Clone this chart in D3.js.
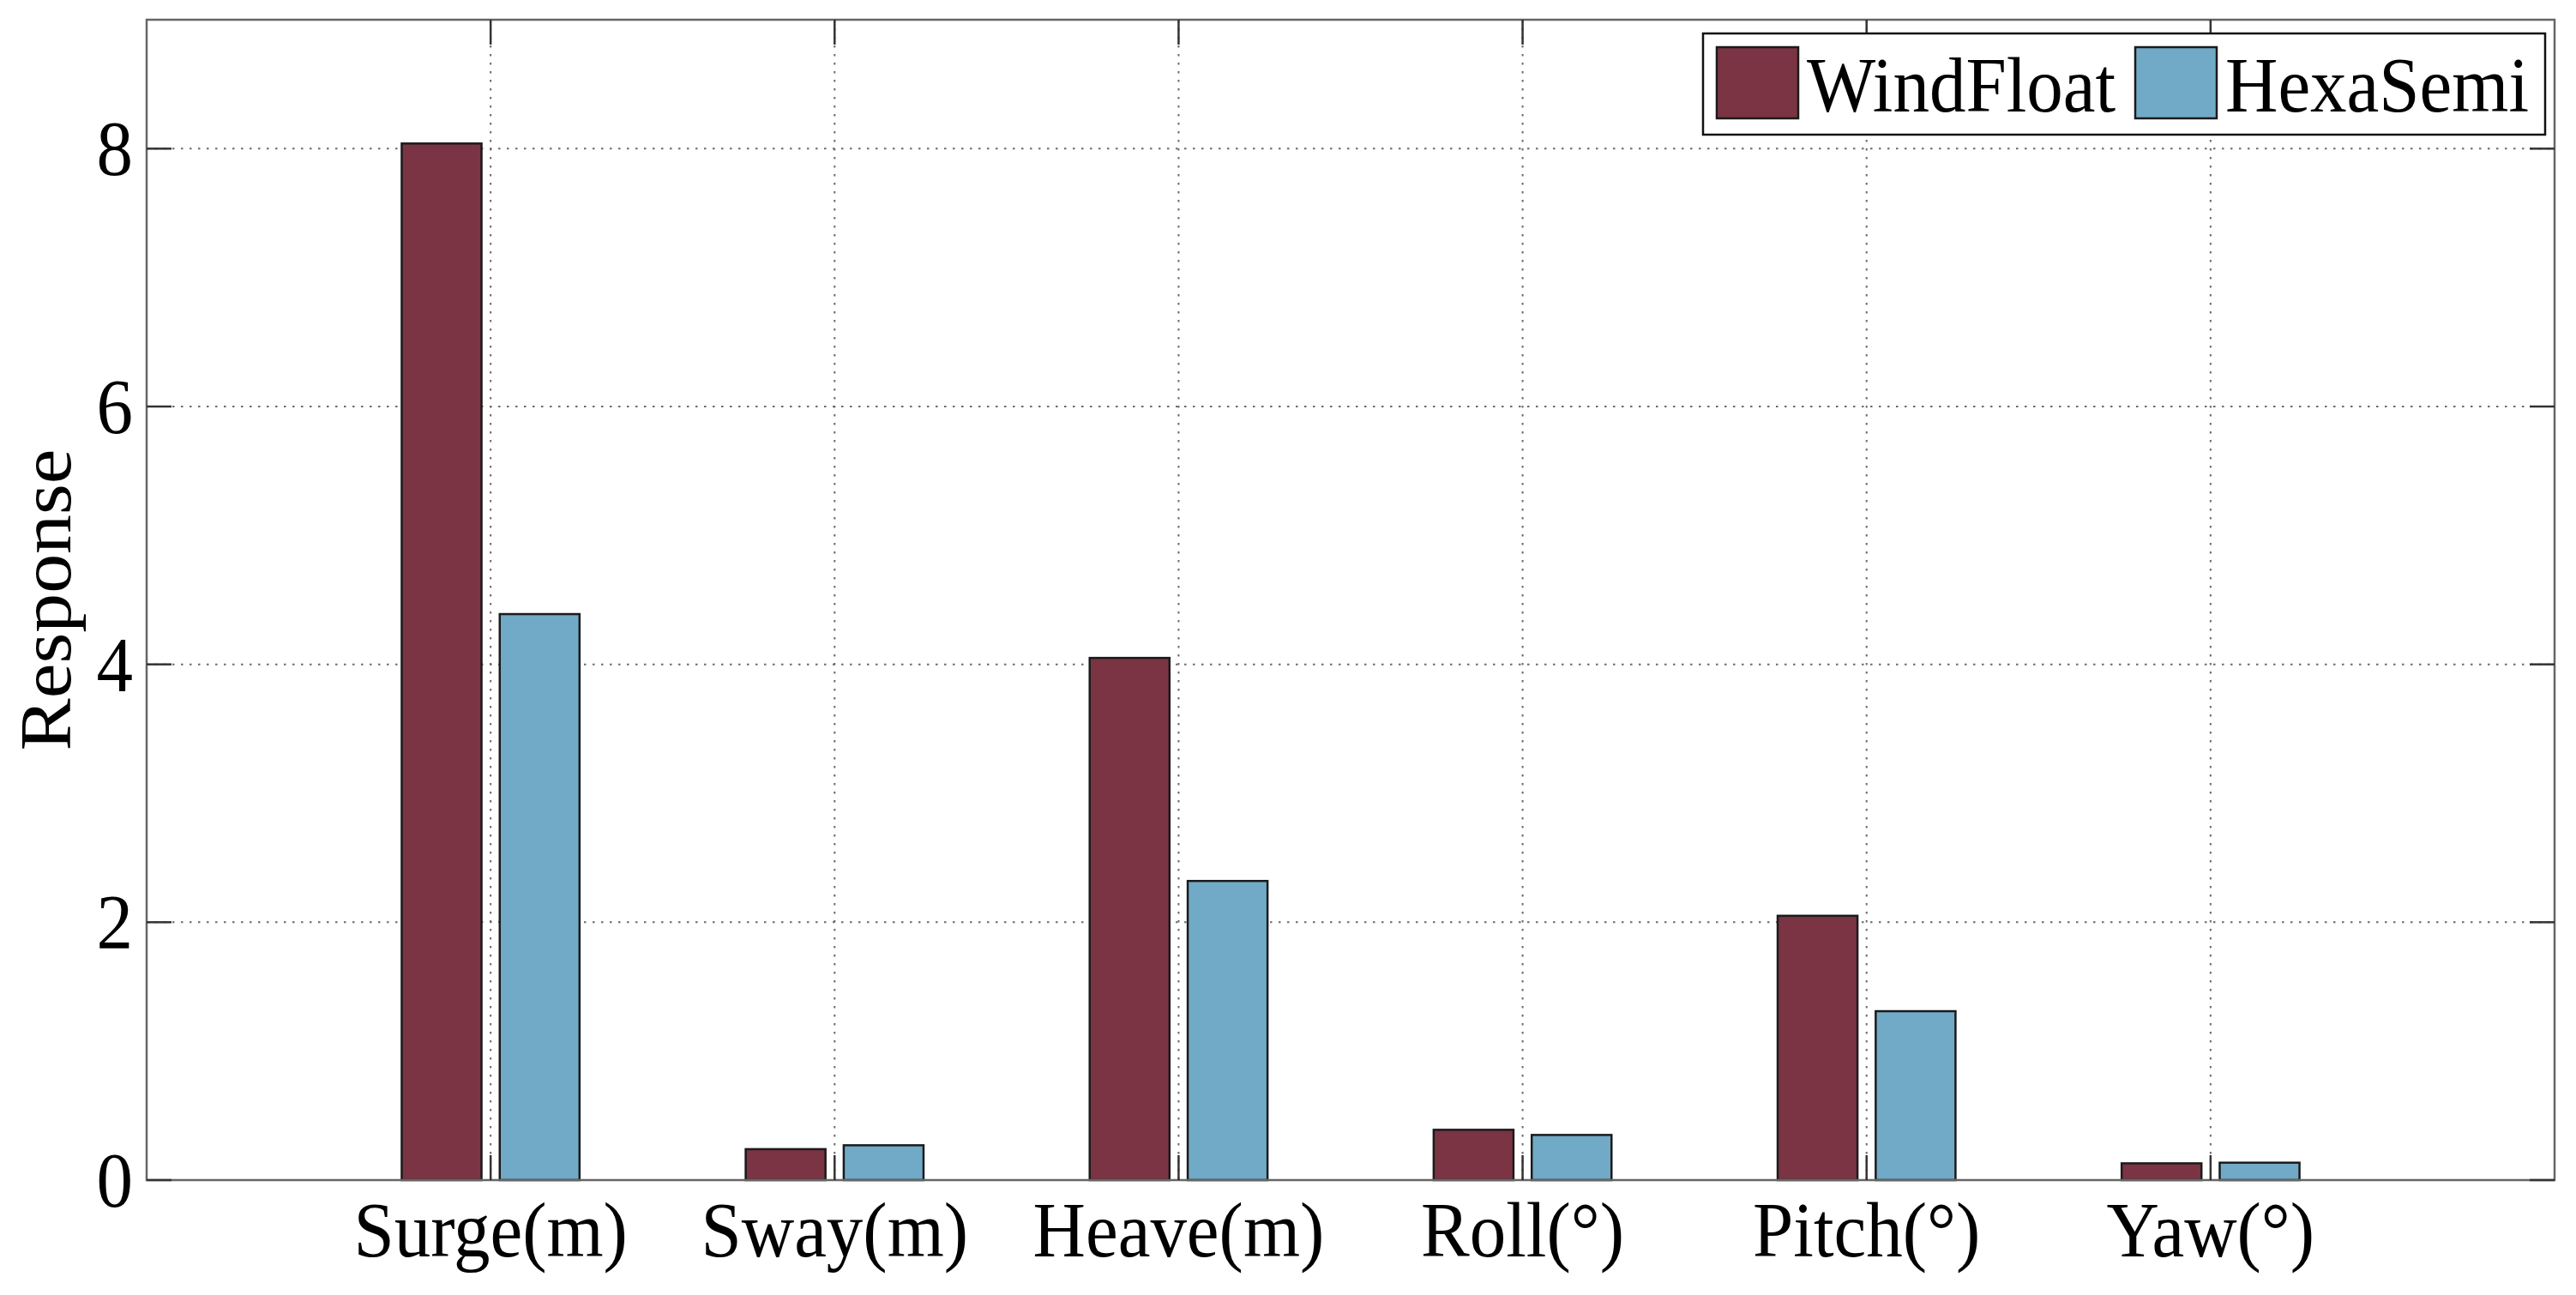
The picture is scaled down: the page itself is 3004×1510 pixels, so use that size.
<!DOCTYPE html>
<html>
<head>
<meta charset="utf-8">
<script src="https://cdn.jsdelivr.net/npm/d3@7"></script>
<style>
  html, body { margin: 0; padding: 0; background: #fff; }
  svg { display: block; }
  text { font-family: "Liberation Serif", "Times New Roman", serif; fill: #000; }
</style>
</head>
<body>
<svg id="chart" width="3004" height="1510"></svg>
<script>
// ---- data ----
const categories = ["Surge(m)", "Sway(m)", "Heave(m)", "Roll(°)", "Pitch(°)", "Yaw(°)"];
const windFloat = [8.04, 0.24, 4.05, 0.39, 2.05, 0.13];
const hexaSemi  = [4.39, 0.27, 2.32, 0.35, 1.31, 0.135];
const seriesNames = ["WindFloat", "HexaSemi"];
const seriesColors = ["#7b3443", "#70aac7"];
const yTicks = [0, 2, 4, 6, 8];
const yLabel = "Response";

// ---- layout ----
const L = 171, R = 2979, T = 23, B = 1376;
const svg = d3.select("#chart");
const x = d3.scaleLinear().domain([0, 7]).range([L, R]);
const y = d3.scaleLinear().domain([0, 9]).range([B, T]);
const SY = 1.08;       // vertical stretch of glyphs in the reference
const fs = 85;

const catPos = categories.map((c, i) => i + 1);
const offset = 0.1425, barW = 0.232;

// grid
const grid = svg.append("g").attr("stroke", "#6a6a6a").attr("stroke-width", 2)
  .attr("stroke-dasharray", "2.5,7.5");
grid.selectAll("line.gy").data(yTicks.filter(v => v > 0)).join("line")
  .attr("x1", L).attr("x2", R).attr("y1", d => y(d)).attr("y2", d => y(d));
grid.selectAll("line.gx").data(catPos).join("line")
  .attr("x1", d => x(d)).attr("x2", d => x(d)).attr("y1", T).attr("y2", B);

// bars
const series = [windFloat, hexaSemi];
series.forEach((vals, s) => {
  const off = s === 0 ? -offset : offset;
  svg.append("g").selectAll("rect").data(vals).join("rect")
    .attr("x", (d, i) => x(catPos[i] + off - barW / 2))
    .attr("width", x(barW) - x(0))
    .attr("y", d => y(d))
    .attr("height", d => y(0) - y(d))
    .attr("fill", seriesColors[s])
    .attr("stroke", "#1b1b1b")
    .attr("stroke-width", 2.5);
});

// frame
svg.append("rect").attr("x", L).attr("y", T).attr("width", R - L).attr("height", B - T)
  .attr("fill", "none").attr("stroke", "#666").attr("stroke-width", 2.5);

// ticks
const tl = 29;
const tk = svg.append("g").attr("stroke", "#333").attr("stroke-width", 2.5);
yTicks.forEach(v => {
  tk.append("line").attr("x1", L).attr("x2", L + tl).attr("y1", y(v)).attr("y2", y(v));
  tk.append("line").attr("x1", R).attr("x2", R - tl).attr("y1", y(v)).attr("y2", y(v));
});
catPos.forEach(v => {
  tk.append("line").attr("x1", x(v)).attr("x2", x(v)).attr("y1", B).attr("y2", B - tl);
  tk.append("line").attr("x1", x(v)).attr("x2", x(v)).attr("y1", T).attr("y2", T + tl);
});

// y tick labels
svg.append("g").selectAll("text").data(yTicks).join("text")
  .attr("transform", d => `translate(${L - 16},${y(d)}) scale(1,${SY})`)
  .attr("text-anchor", "end").attr("dominant-baseline", "central")
  .attr("font-size", fs).text(d => d);

// x tick labels
svg.append("g").selectAll("text").data(categories).join("text")
  .attr("transform", (d, i) => `translate(${x(catPos[i])},1465) scale(1,${SY})`)
  .attr("text-anchor", "middle")
  .attr("font-size", fs).text(d => d);

// y label
svg.append("text")
  .attr("transform", `translate(82,${(T + B) / 2}) scale(1,${SY}) rotate(-90)`)
  .attr("text-anchor", "middle").attr("font-size", fs).text(yLabel);

// legend
const lg = svg.append("g");
lg.append("rect").attr("x", 1986).attr("y", 39).attr("width", 2968 - 1986).attr("height", 157 - 39)
  .attr("fill", "#fff").attr("stroke", "#111").attr("stroke-width", 2.5);
const legX = [2002, 2490];
seriesNames.forEach((n, s) => {
  lg.append("rect").attr("x", legX[s]).attr("y", 55).attr("width", 95).attr("height", 83)
    .attr("fill", seriesColors[s]).attr("stroke", "#1b1b1b").attr("stroke-width", 2.5);
  lg.append("text").attr("transform", `translate(${legX[s] + 105},130) scale(1,${SY})`)
    .attr("font-size", 85).text(n);
});
</script>
</body>
</html>
